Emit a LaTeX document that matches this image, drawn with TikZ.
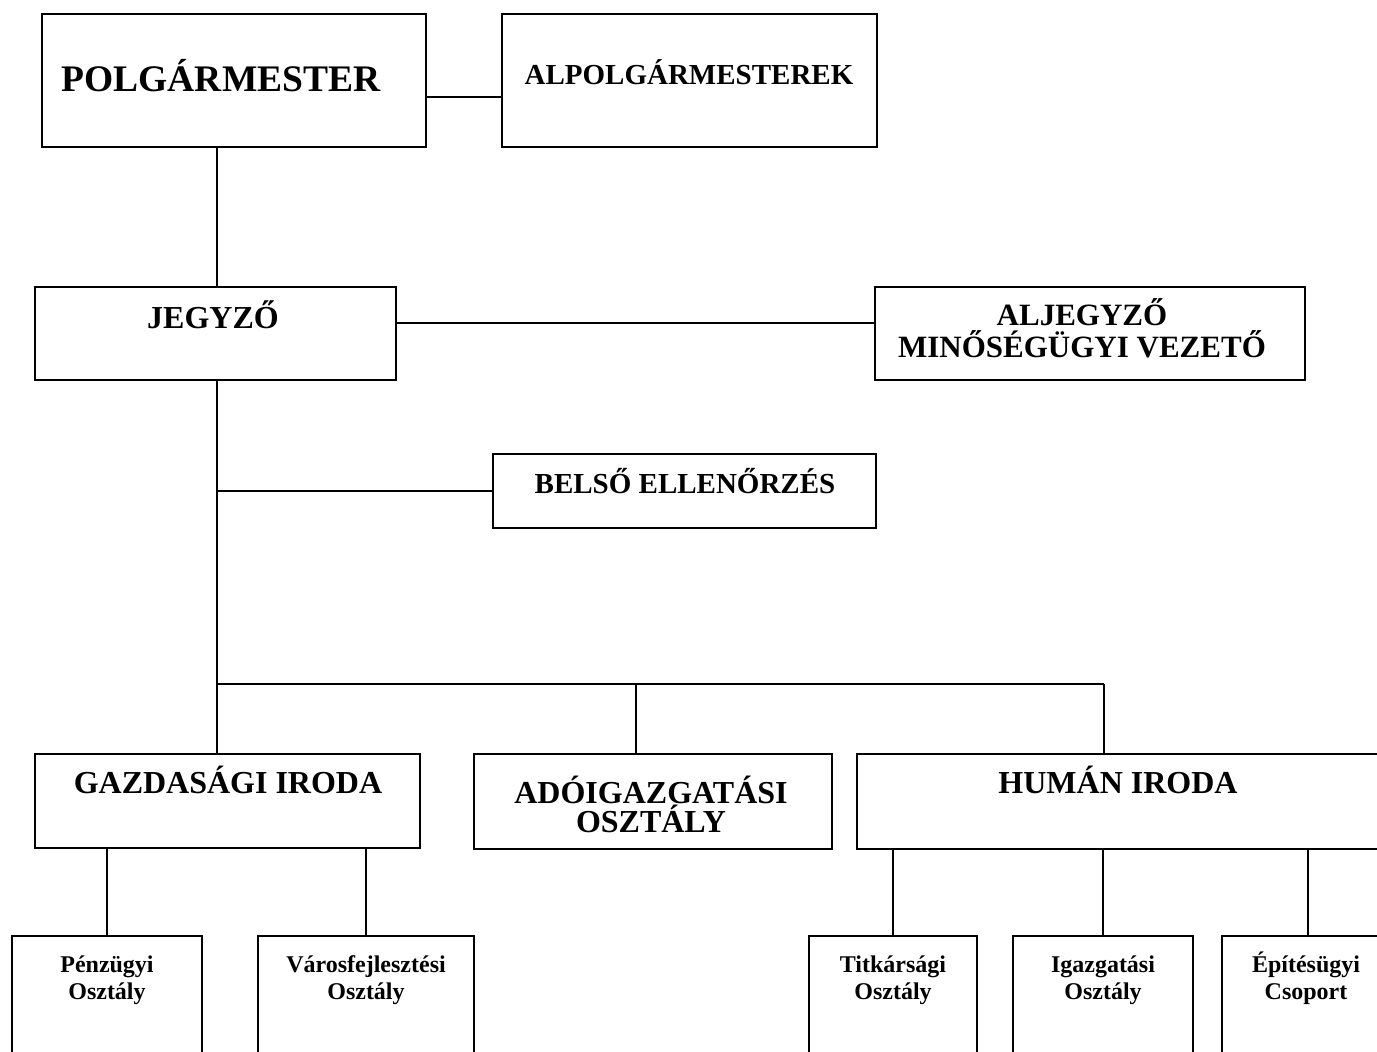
\documentclass[tikz,border=0pt]{standalone}
\usepackage{fontspec}
\setmainfont{Liberation Serif}
\begin{document}
\begin{tikzpicture}[x=1pt,y=-1pt,line width=1.8pt,
    box/.style={draw, anchor=north west, inner sep=0pt, outer sep=0pt},
    lbl/.style={anchor=base, inner sep=0pt, align=center},
    xl/.style={font=\fontsize{37.5}{40}\selectfont\bfseries},
    lg/.style={font=\fontsize{32}{29}\selectfont\bfseries},
    md/.style={font=\fontsize{29}{32}\selectfont\bfseries},
    sm/.style={font=\fontsize{24}{27}\selectfont\bfseries}]
  \useasboundingbox (0,0) rectangle (1377,1052);
  \clip (0,0) rectangle (1377,1052);
  % top level
  \node[box, minimum width=384pt, minimum height=133pt] (polg) at (42,14) {};
  \node[lbl, xl] (polgt) at (221,91) {POLGÁRMESTER};
  \node[box, minimum width=375pt, minimum height=133pt] (alpolg) at (502,14) {};
  \node[lbl, md] (alpolgt) at (689,84) {ALPOLGÁRMESTEREK};
  % jegyzo level
  \node[box, minimum width=361pt, minimum height=93pt] (jegyzo) at (35,287) {};
  \node[lbl, lg] (jegyzot) at (213,328) {JEGYZŐ};
  \node[box, minimum width=430pt, minimum height=93pt] (aljegyzo) at (875,287) {};
  \node[lbl, font=\fontsize{31}{32}\selectfont\bfseries] (aljegyzot) at (1082,357) {ALJEGYZŐ\\MINŐSÉGÜGYI VEZETŐ};
  \node[box, minimum width=383pt, minimum height=74pt] (belso) at (493,454) {};
  \node[lbl, md] (belsot) at (685,493) {BELSŐ ELLENŐRZÉS};
  % irodak
  \node[box, minimum width=385pt, minimum height=94pt] (gazd) at (35,754) {};
  \node[lbl, lg] (gazdt) at (228,793) {GAZDASÁGI IRODA};
  \node[box, minimum width=358pt, minimum height=95pt] (ado) at (474,754) {};
  \node[lbl, lg] (adot) at (651,832) {ADÓIGAZGATÁSI\\OSZTÁLY};
  \node[box, minimum width=560pt, minimum height=95pt] (human) at (857,754) {};
  \node[lbl, lg] (humant) at (1118,793) {HUMÁN IRODA};
  % osztalyok
  \node[box, minimum width=190pt, minimum height=140pt] (penz) at (12,936) {};
  \node[lbl, sm] (penzt) at (107,999) {Pénzügyi\\Osztály};
  \node[box, minimum width=216pt, minimum height=140pt] (varos) at (258,936) {};
  \node[lbl, sm] (varost) at (366,999) {Városfejlesztési\\Osztály};
  \node[box, minimum width=168pt, minimum height=140pt] (titk) at (809,936) {};
  \node[lbl, sm] (titkt) at (893,999) {Titkársági\\Osztály};
  \node[box, minimum width=180pt, minimum height=140pt] (igaz) at (1013,936) {};
  \node[lbl, sm] (igazt) at (1103,999) {Igazgatási\\Osztály};
  \node[box, minimum width=172pt, minimum height=140pt] (epit) at (1222,936) {};
  \node[lbl, sm] (epitt) at (1306,999) {Építésügyi\\Csoport};
  % connectors
  \coordinate (trunk) at (217,0);
  \coordinate (busa) at (636,684);
  \coordinate (busb) at (1104,684);
  \draw ([yshift=-16.5pt]polg.east) -- ([yshift=-16.5pt]alpolg.west);
  \draw (polg.south -| trunk) -- (jegyzo.north -| trunk);
  \draw ([yshift=10.5pt]jegyzo.east) -- ([yshift=10.5pt]aljegyzo.west);
  \draw (jegyzo.south -| trunk) -- (gazd.north -| trunk);
  \draw (belso.west) -- (belso.west -| trunk);
  \draw (busa -| trunk) -- (busb);
  \draw (busa) -- (busa |- ado.north);
  \draw (busb) -- (busb |- human.north);
  \foreach \k in {penz,varos} \draw (gazd.south -| \k.north) -- (\k.north);
  \foreach \k in {titk,igaz,epit} \draw (human.south -| \k.north) -- (\k.north);
\end{tikzpicture}
\end{document}
